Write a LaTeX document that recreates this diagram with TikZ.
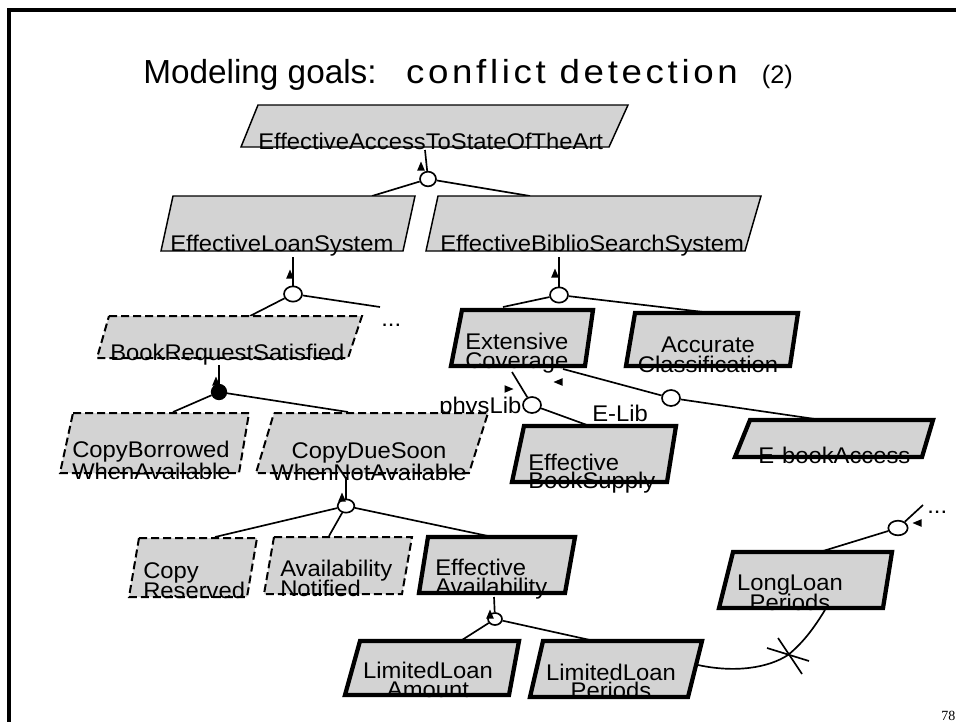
\documentclass[tikz,border=0pt]{standalone}
\usepackage{fontspec}
\usetikzlibrary{shapes.geometric}
\setmainfont{Liberation Sans}
\newfontfamily\nodefont[FakeStretch=1.05,Ligatures=NoCommon]{Liberation Sans}
\newfontfamily\titlefont[Ligatures=NoCommon]{Liberation Sans}
\newfontfamily\titlespaced[FakeStretch=1.1,LetterSpace=11,Ligatures=NoCommon]{Liberation Sans}
\newfontfamily\numfont{Liberation Serif}
\definecolor{goalgray}{RGB}{211,211,211}
\newcommand\Lst[3]{\vtop{\baselineskip=#1\lineskiplimit=-100pt\lineskip=0pt\hbox{#2}\hbox{#3}}}
\newcommand\Cst[3]{\vtop{\baselineskip=#1\lineskiplimit=-100pt\lineskip=0pt\halign{\hfil##\hfil\cr#2\cr#3\cr}}}
\newcommand\goalshape[5]{\path[#1] #2 -- #3 -- #4 -- #5 -- cycle;}
\tikzset{
  goalthin/.style={fill=goalgray, draw=black, line width=1.1pt, line join=miter},
  goaldash/.style={goalthin, line width=1.5pt, dash pattern=on 6pt off 3pt},
  goalthick/.style={goalthin, line width=3.2pt},
  gtext/.style={font=\nodefont\fontsize{17}{20}\selectfont, inner sep=0pt},
  conn/.style={draw=black, line width=1.25pt},
  orn/.style={ellipse, draw=black, fill=white, line width=1.25pt, inner sep=0pt},
  andn/.style={ellipse, draw=black, fill=black, line width=1.25pt, inner sep=0pt},
  uptri/.pic={\fill (0,-4.5) -- (-3.8,4.5) -- (3.8,4.5) -- cycle;},
  lefttri/.pic={\fill (-4.5,0) -- (4.5,-3.8) -- (4.5,3.8) -- cycle;},
  righttri/.pic={\fill (4.5,0) -- (-4.5,-3.8) -- (-4.5,3.8) -- cycle;}
}
\begin{document}
\begin{tikzpicture}[x=0.75pt,y=-0.75pt]
\useasboundingbox (0,0) rectangle (956,721);
\fill[white] (0,0) rectangle (956,721);
% frame
\draw[line width=2.3pt] (9,725) -- (9,10) -- (960,10);
% title
\node[anchor=base west, inner sep=0pt] (title) at (143,83)
  {{\titlefont\fontsize{25}{30}\selectfont Modeling goals:}\hspace{22pt}{\titlespaced\fontsize{25}{30}\selectfont conflict detection}\hspace{18pt}{\titlefont\fontsize{19}{22}\selectfont (2)}};
% connection points
\coordinate (eats-out) at (425,150);
\coordinate (els-in) at (372,196);
\coordinate (ebss-in) at (530,196);
\coordinate (els-out) at (293,257);
\coordinate (brs-in) at (250,316);
\coordinate (dots1-end) at (380,307);
\coordinate (brs-out) at (219,365);
\coordinate (cbwa-in) at (173,412);
\coordinate (cds-in) at (348,412);
\coordinate (cds-out) at (346,477);
\coordinate (cr-in) at (215,537);
\coordinate (an-in) at (329,536);
\coordinate (ea-in) at (488,536);
\coordinate (ea-out) at (494,597);
\coordinate (lla-in) at (462,640);
\coordinate (llp-in) at (590,640);
\coordinate (ebss-out) at (559,257);
\coordinate (ec-in) at (503,307);
\coordinate (ac-in) at (712,313);
\coordinate (ec-out1) at (512,372);
\coordinate (ec-out2) at (563,369);
\coordinate (ebs-in) at (587,425);
\coordinate (eba-in) at (815,419);
\coordinate (lonp-in) at (823,551);
\coordinate (dots2-end) at (923,505);
\coordinate (llp-out) at (698,665);
\coordinate (lonp-out) at (825,610);
\coordinate (clash) at (788,655);
% labels under boxes
\node[gtext, anchor=base west] (lbl-phys) at (439,413) {physLib};
\node[gtext, anchor=base west] (lbl-elib) at (592,421) {E-Lib};
\node[gtext, anchor=base west] (dots1) at (381,326) {...};
\node[gtext, anchor=base west] (dots2) at (927,513) {...};
% refinement nodes
\node[orn, minimum width=12pt, minimum height=11pt] (c1) at (428,179) {};
\node[orn, minimum width=13.5pt, minimum height=11.5pt] (c2) at (293,294) {};
\node[andn, minimum width=11pt, minimum height=11pt] (c3) at (219,392) {};
\node[orn, minimum width=12.5pt, minimum height=10pt] (c4) at (346,506) {};
\node[orn, minimum width=10.5pt, minimum height=9pt] (c5) at (495,619) {};
\node[orn, minimum width=13.5pt, minimum height=11.5pt] (c6) at (559,295) {};
\node[orn, minimum width=13.5pt, minimum height=12pt] (c7) at (532,405) {};
\node[orn, minimum width=13.5pt, minimum height=12pt] (c8) at (671,398) {};
\node[orn, minimum width=14.5pt, minimum height=11pt] (c9) at (898,528) {};
% connectors
\draw[conn] (eats-out) -- (c1);
\draw[conn] (c1) -- (els-in);
\draw[conn] (c1) -- (ebss-in);
\draw[conn] (els-out) -- (c2);
\draw[conn] (c2) -- (brs-in);
\draw[conn] (c2) -- (dots1-end);
\draw[conn] (brs-out) -- (c3);
\draw[conn] (c3) -- (cbwa-in);
\draw[conn] (c3) -- (cds-in);
\draw[conn] (cds-out) -- (c4);
\draw[conn] (c4) -- (cr-in);
\draw[conn] (c4) -- (an-in);
\draw[conn] (c4) -- (ea-in);
\draw[conn] (ea-out) -- (c5);
\draw[conn] (c5) -- (lla-in);
\draw[conn] (c5) -- (llp-in);
\draw[conn] (ebss-out) -- (c6);
\draw[conn] (c6) -- (ec-in);
\draw[conn] (c6) -- (ac-in);
\draw[conn] (ec-out1) -- (c7);
\draw[conn] (c7) -- (ebs-in);
\draw[conn] (ec-out2) -- (c8);
\draw[conn] (c8) -- (eba-in);
\draw[conn] (c9) -- (lonp-in);
\draw[conn] (c9) -- (dots2-end);
% conflict link
\draw[conn] (llp-out) .. controls (735,673) and (768,668) .. (clash) .. controls (805,641) and (815,626) .. (lonp-out);
\draw[conn] (767,648) -- (809,661);
\draw[conn] (778,638) -- (802,674);
% goal shapes
\goalshape{goalthin}{(258,105)}{(628,105)}{(609,147)}{(241,147)}
\goalshape{goalthin}{(173,196)}{(415,196)}{(403,251)}{(161,251)}
\goalshape{goalthin}{(438,196)}{(761,196)}{(745,251)}{(426,251)}
\goalshape{goaldash}{(109,316)}{(362,316)}{(348,358)}{(97,358)}
\goalshape{goaldash}{(73,413)}{(249,413)}{(239,473)}{(60,473)}
\goalshape{goaldash}{(274,413)}{(488,413)}{(469,473)}{(256,473)}
\goalshape{goaldash}{(139,538)}{(257,538)}{(247,597)}{(129,597)}
\goalshape{goaldash}{(274,537)}{(412,537)}{(402,594)}{(264,594)}
\goalshape{goalthick}{(428,537)}{(575,537)}{(565,593)}{(419,593)}
\goalshape{goalthick}{(360,641)}{(519,641)}{(509,695)}{(345,695)}
\goalshape{goalthick}{(543,641)}{(702,641)}{(688,697)}{(530,697)}
\goalshape{goalthick}{(462,310)}{(593,310)}{(585,366)}{(451,366)}
\goalshape{goalthick}{(635,313)}{(798,313)}{(790,366)}{(626,366)}
\goalshape{goalthick}{(524,426)}{(676,426)}{(667,482)}{(512,482)}
\goalshape{goalthick}{(750,420)}{(933,420)}{(922,457)}{(735,457)}
\goalshape{goalthick}{(733,552)}{(892,552)}{(883,608)}{(719,608)}
% goal texts
\node[gtext, anchor=base west] (eats) at (258,149) {EffectiveAccessToStateOfTheArt};
\node[gtext, anchor=base west] (els) at (170,251) {EffectiveLoanSystem};
\node[gtext, anchor=base west] (ebss) at (440,251) {EffectiveBiblioSearchSystem};
\node[gtext, anchor=base west] (brs) at (110,360) {BookRequestSatisfied};
\node[gtext, anchor=base west] (cbwa) at (72,457) {\Lst{16.5pt}{CopyBorrowed}{WhenAvailable}};
\node[gtext, anchor=base] (cds) at (369,458) {\Cst{16.5pt}{CopyDueSoon}{WhenNotAvailable}};
\node[gtext, anchor=base west] (cr) at (143,578) {\Lst{15pt}{Copy}{Reserved}};
\node[gtext, anchor=base west] (an) at (280,576) {\Lst{15.5pt}{Availability}{Notified}};
\node[gtext, anchor=base west] (ea) at (435,575) {\Lst{14.5pt}{Effective}{Availability}};
\node[gtext, anchor=base] (lla) at (428,678) {\Cst{14.5pt}{LimitedLoan}{Amount}};
\node[gtext, anchor=base] (llp) at (611,680) {\Cst{14pt}{LimitedLoan}{Periods}};
\node[gtext, anchor=base west] (ec) at (465,349) {\Lst{14.5pt}{Extensive}{Coverage}};
\node[gtext, anchor=base] (ac) at (708,352) {\Cst{15pt}{Accurate}{Classification}};
\node[gtext, anchor=base west] (ebs) at (528,470) {\Lst{14pt}{Effective}{BookSupply}};
\node[gtext, anchor=base west] (eba) at (758,463) {E-bookAccess};
\node[gtext, anchor=base] (lonp) at (790,590) {\Cst{15pt}{LongLoan}{Periods}};
% arrow heads
\pic at (421,166) {uptri};
\pic at (290,274) {uptri};
\pic at (216,381) {uptri};
\pic at (555,273) {uptri};
\pic at (342,497) {uptri};
\pic at (490,614) {uptri};
\pic at (509,389) {righttri};
\pic at (558,382) {lefttri};
\pic at (917,523) {lefttri};
% page number
\node[font=\numfont\fontsize{10.5}{12}\selectfont, anchor=north west, inner sep=0pt] (pg) at (941,711) {78};
\end{tikzpicture}
\end{document}
